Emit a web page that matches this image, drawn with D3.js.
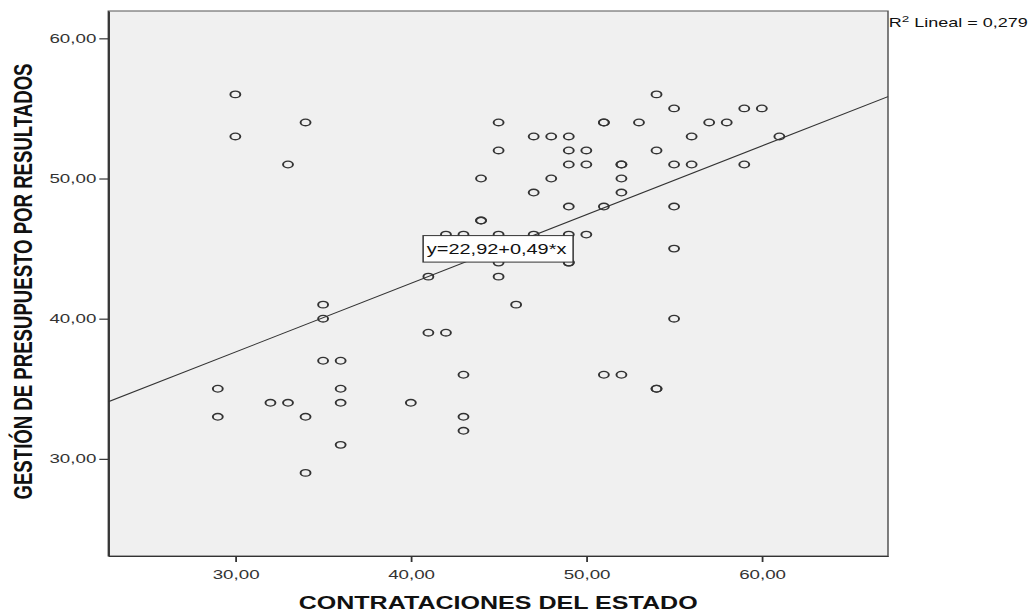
<!DOCTYPE html>
<html lang="es">
  <head>
    <meta charset="UTF-8" />
    <title>Dispersión - Contrataciones vs Gestión</title>
    <script src="https://d3js.org/d3.v7.min.js"></script>
    <style>
      html, body { margin: 0; padding: 0; background: #fff; }
      svg { display: block; }
    </style>
  </head>
  <body>
    <svg id="chart" width="1033" height="612"></svg>

    <script>
      // datos (pares x / y)
      const contratacion = [
        29, 29, 30, 30, 32, 33, 33, 34, 34, 34, 35, 35, 35, 36, 36, 36, 36,
        40, 41, 41, 42, 42, 43, 43, 43, 43, 44, 44, 44,
        45, 45, 45, 45, 45, 46, 47, 47, 47, 48, 48,
        49, 49, 49, 49, 49, 49, 49, 50, 50, 50, 51, 51, 51, 51,
        52, 52, 52, 52, 52, 53, 54, 54, 54, 54, 55, 55, 55, 55, 55,
        56, 56, 57, 58, 59, 59, 60, 61
      ];
      const gestion = [
        35, 33, 56, 53, 34, 51, 34, 54, 33, 29, 41, 40, 37, 37, 35, 34, 31,
        34, 43, 39, 46, 39, 46, 36, 33, 32, 50, 47, 47,
        54, 52, 46, 44, 43, 41, 53, 49, 46, 53, 50,
        53, 52, 51, 48, 46, 44, 44, 52, 51, 46, 54, 54, 48, 36,
        51, 51, 50, 49, 36, 54, 56, 52, 35, 35, 55, 51, 48, 45, 40,
        53, 51, 54, 54, 55, 51, 55, 53
      ];
      const xTicks = [30, 40, 50, 60];
      const yTicks = [30, 40, 50, 60];
      const intercepto = 22.92;
      const pendiente = 0.49;
      const r2 = "0,279";

      // el original está estirado en horizontal, se reproduce con el viewBox
      const stretch = 1.5;
      const W = 1033 / stretch;
      const H = 612;

      const svg = d3.select("#chart")
        .attr("viewBox", `0 0 ${W} ${H}`)
        .attr("preserveAspectRatio", "none");

      const plot = { left: 72.2, right: 592, top: 11, bottom: 556 };
      const font = "'Liberation Sans', Arial, sans-serif";
      const fmt = (d) => d3.format(".2f")(d).replace(".", ",");

      const x = d3.scaleLinear().domain([22.76, 67.19]).range([plot.left, plot.right]);
      const y = d3.scaleLinear().domain([23.07, 61.95]).range([plot.bottom, plot.top]);

      // fondo del área de trazado
      svg.append("rect")
        .attr("x", plot.left)
        .attr("y", plot.top)
        .attr("width", plot.right - plot.left)
        .attr("height", plot.bottom - plot.top)
        .style("fill", "#f0f0f0")
        .style("stroke", "#555")
        .style("stroke-width", 1);

      // ejes
      const xAxis = svg.append("g")
        .attr("transform", `translate(0,${plot.bottom})`)
        .call(d3.axisBottom(x).tickValues(xTicks).tickFormat(fmt)
          .tickSizeInner(6).tickSizeOuter(0).tickPadding(8));
      const yAxis = svg.append("g")
        .attr("transform", `translate(${plot.left},0)`)
        .call(d3.axisLeft(y).tickValues(yTicks).tickFormat(fmt)
          .tickSizeInner(6).tickSizeOuter(0).tickPadding(2));

      [xAxis, yAxis].forEach((g) => {
        g.select(".domain").style("stroke", "#333").style("stroke-width", 1.2);
        g.selectAll(".tick line").style("stroke", "#333").style("stroke-width", 1.2);
        g.selectAll(".tick text")
          .style("font-family", font)
          .style("font-size", "12.5px")
          .style("fill", "#333");
      });

      // línea de ajuste
      const dom = x.domain();
      svg.append("line")
        .attr("x1", x(dom[0]))
        .attr("y1", y(intercepto + pendiente * dom[0]))
        .attr("x2", x(dom[1]))
        .attr("y2", y(intercepto + pendiente * dom[1]))
        .style("stroke", "#333")
        .style("stroke-width", 1);

      // puntos
      svg.append("g")
        .selectAll("circle")
        .data(contratacion.map((d, i) => [d, gestion[i]]))
        .join("circle")
        .attr("cx", (d) => x(d[0]))
        .attr("cy", (d) => y(d[1]))
        .attr("r", 3.3)
        .style("fill", "none")
        .style("stroke", "#333")
        .style("stroke-width", 1.3);

      // etiqueta de la ecuación
      const bx = x(40.7);
      const by = y(45);
      svg.append("rect")
        .attr("x", bx)
        .attr("y", by - 13)
        .attr("width", 100)
        .attr("height", 26.5)
        .style("fill", "#fff")
        .style("stroke", "#333")
        .style("stroke-width", 1);
      svg.append("text")
        .attr("x", bx + 2.5)
        .attr("y", by + 5.5)
        .attr("textLength", 93)
        .attr("lengthAdjust", "spacingAndGlyphs")
        .style("font-family", font)
        .style("font-size", "14px")
        .style("fill", "#111")
        .text(`y=${fmt(intercepto)}+${fmt(pendiente)}*x`);

      // R²
      const r2Text = svg.append("text")
        .attr("x", plot.right + 0.5)
        .attr("y", 27)
        .style("font-family", font)
        .style("font-size", "12px")
        .style("fill", "#111");
      r2Text.append("tspan").text("R");
      r2Text.append("tspan").attr("dy", -5).style("font-size", "9px").text("2");
      r2Text.append("tspan").attr("dy", 5).text(` Lineal = ${r2}`);

      // títulos de ejes
      svg.append("text")
        .attr("x", (plot.left + plot.right) / 2)
        .attr("y", 609)
        .attr("text-anchor", "middle")
        .attr("textLength", 266)
        .attr("lengthAdjust", "spacingAndGlyphs")
        .style("font-family", font)
        .style("font-size", "18px")
        .style("font-weight", "bold")
        .style("fill", "#111")
        .text("CONTRATACIONES DEL ESTADO");

      svg.append("text")
        .attr("transform", `translate(21.3,${(plot.top + plot.bottom) / 2 - 2}) rotate(-90)`)
        .attr("text-anchor", "middle")
        .attr("textLength", 436)
        .attr("lengthAdjust", "spacingAndGlyphs")
        .style("font-family", font)
        .style("font-size", "17.5px")
        .style("font-weight", "bold")
        .style("fill", "#111")
        .text("GESTIÓN DE PRESUPUESTO POR RESULTADOS");
    </script>
  </body>
</html>
